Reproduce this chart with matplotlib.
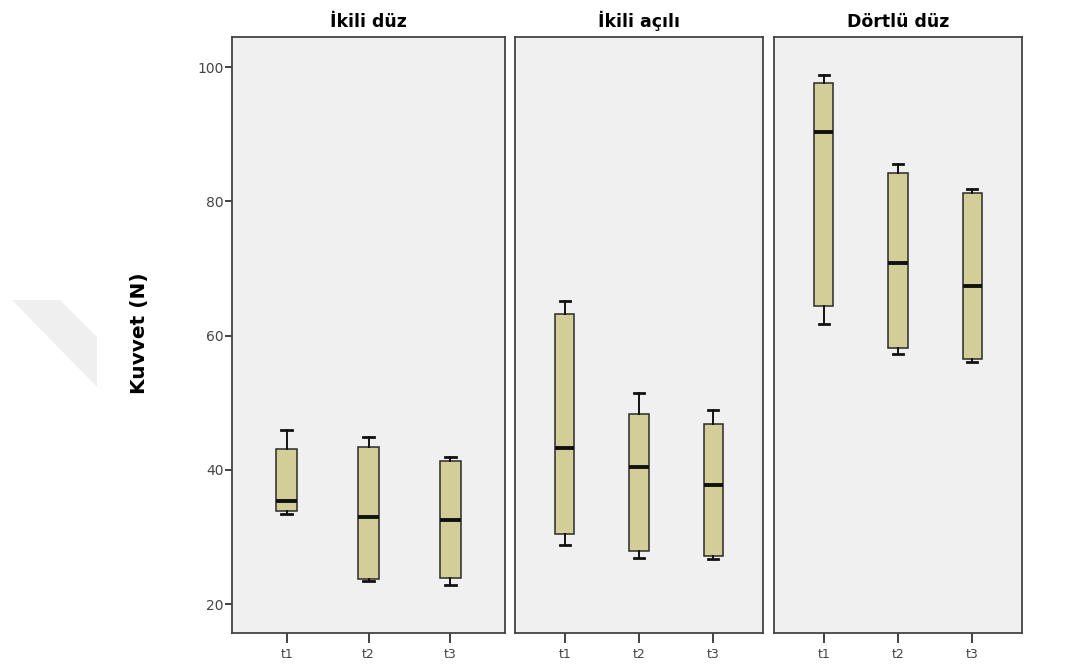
import matplotlib.pyplot as plt
from matplotlib.patches import Polygon

plt.rcParams['font.family'] = ['DejaVu Sans']

groups = ['İkili düz', 'İkili açılı', 'Dörtlü düz']
times = ['t1', 't2', 't3']

# whisker low, q1, median, q3, whisker high  (per group, per time)
w_lo = [[33.4, 23.5, 22.8], [28.8, 26.9, 26.7], [61.8, 57.2, 56.1]]
q1 = [[33.9, 23.8, 23.9], [30.5, 27.9, 27.2], [64.4, 58.2, 56.5]]
med = [[35.4, 33.0, 32.5], [43.3, 40.5, 37.8], [90.3, 70.9, 67.4]]
q3 = [[43.1, 43.4, 41.3], [63.2, 48.3, 46.8], [97.6, 84.3, 81.3]]
w_hi = [[45.9, 44.9, 41.9], [65.1, 51.5, 48.9], [98.8, 85.6, 81.8]]

fig = plt.figure(figsize=(10.76, 6.71), dpi=100)

# faint watermark in the page
wm = [(12, 300), (60, 300), (97, 337), (97, 387)]
fig.patches.append(Polygon([(x/1076, 1-y/671) for x, y in wm],
                           closed=True, transform=fig.transFigure,
                           facecolor='#efefef', edgecolor='none'))

lefts = [232, 515, 774]
widths = [273, 248, 248]
for g in range(3):
    ax = fig.add_axes([lefts[g]/1076, 1-633/671, widths[g]/1076, 596/671])
    ax.set_facecolor('#f0f0f0')
    stats = []
    for t in range(3):
        stats.append(dict(whislo=w_lo[g][t], q1=q1[g][t], med=med[g][t],
                          q3=q3[g][t], whishi=w_hi[g][t], fliers=[]))
    ax.bxp(stats, positions=[1, 2, 3], widths=0.26, patch_artist=True,
           showfliers=False,
           boxprops=dict(facecolor='#d3ce98', edgecolor='#2a2a2a', linewidth=1.1),
           medianprops=dict(color='#111111', linewidth=2.8, solid_capstyle='butt'),
           whiskerprops=dict(color='#111111', linewidth=1.4),
           capprops=dict(color='#111111', linewidth=2.0),
           capwidths=0.14)
    ax.set_xlim(0.33, 3.67)
    ax.set_ylim(15.7, 104.5)
    ax.set_xticks([1, 2, 3])
    ax.set_xticklabels(times, fontsize=9, color='#444444')
    ax.tick_params(axis='x', length=7, width=1.3, color='#333333', pad=4)
    for s in ax.spines.values():
        s.set_linewidth(1.3)
        s.set_color('#444444')
    if g == 0:
        ax.set_yticks([20, 40, 60, 80, 100])
        ax.tick_params(axis='y', labelsize=10, length=5, width=1.3,
                       color='#333333', labelcolor='#444444', pad=1)
        ax.set_ylabel('Kuvvet (N)', fontsize=14.5, fontweight='bold')
        ax.yaxis.set_label_coords((149 - 232) / 273, 0.503)
    else:
        ax.set_yticks([])
    ax.set_title(groups[g], fontsize=12.5, fontweight='bold', pad=7)

fig.savefig('out.png', dpi=100)
